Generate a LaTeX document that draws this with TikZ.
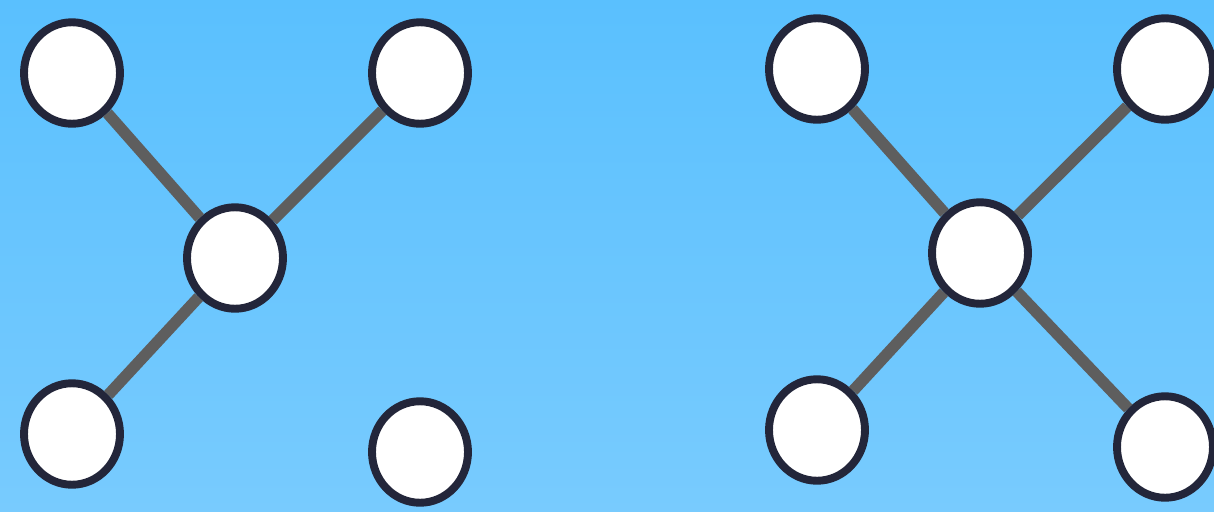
\documentclass[tikz,border=0pt]{standalone}
\usetikzlibrary{shapes.geometric}
\definecolor{skytop}{HTML}{5AC0FE}
\definecolor{skybot}{HTML}{78CBFE}
\definecolor{rim}{HTML}{23263A}
\definecolor{link}{HTML}{5E5E5E}
\begin{document}
\begin{tikzpicture}[x=0.02cm, y=-0.02cm,
    vert/.style={draw=rim, fill=white, ellipse, line width=4.5pt, inner sep=0pt,
                 minimum width=1.92cm, minimum height=2.03cm},
    edge/.style={draw=link, line width=6.5pt}]
        \shade[top color=skytop, bottom color=skybot] (0,0) rectangle (1214,511);
        \useasboundingbox (0,0) rectangle (1214,511);

        % left graph
        \node[vert] (la) at (72,73) {};
        \node[vert] (lb) at (420,73) {};
        \node[vert] (lc) at (235,258) {};
        \node[vert] (ld) at (72,434) {};
        \node[vert] (le) at (420,452) {};

        % right graph
        \node[vert] (ra) at (817,69) {};
        \node[vert] (rb) at (1165,69) {};
        \node[vert] (rc) at (980,253) {};
        \node[vert] (rd) at (817,430) {};
        \node[vert] (re) at (1165,447) {};

        \draw[edge] (la) -- (lc);
        \draw[edge] (lb) -- (lc);
        \draw[edge] (ld) -- (lc);
        \draw[edge] (ra) -- (rc);
        \draw[edge] (rb) -- (rc);
        \draw[edge] (rd) -- (rc);
        \draw[edge] (re) -- (rc);
\end{tikzpicture}
\end{document}
